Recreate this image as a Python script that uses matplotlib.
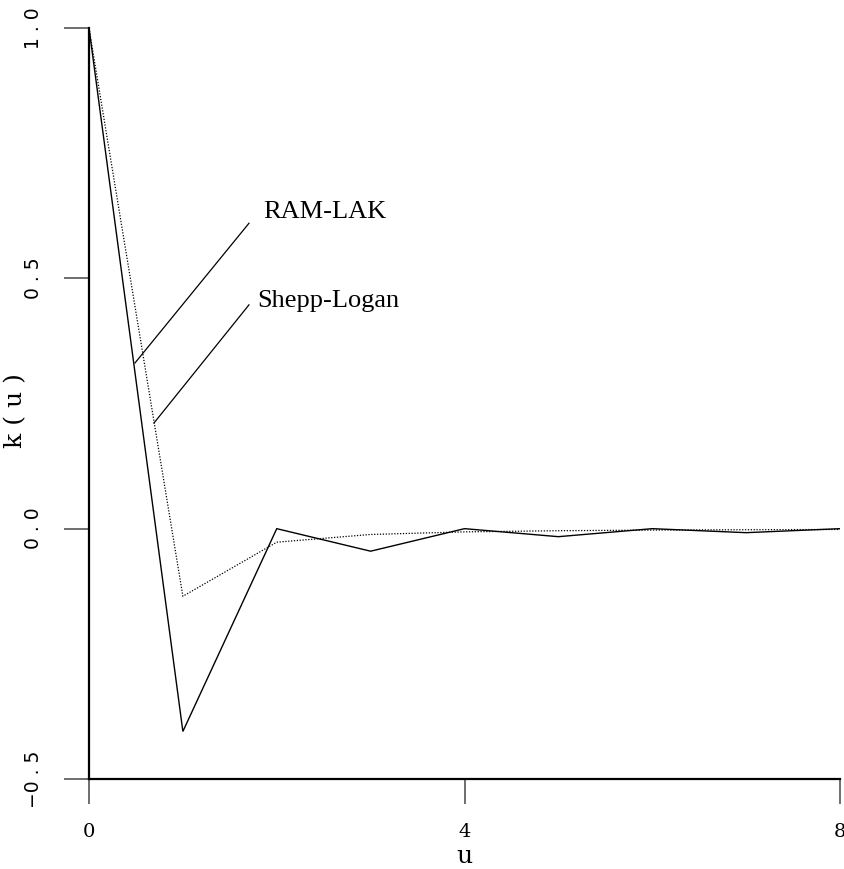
import matplotlib
matplotlib.use("Agg")
import matplotlib.pyplot as plt

u = [0, 1, 2, 3, 4, 5, 6, 7, 8]
ram_lak = [1.0, -0.405, 0.0, -0.045, 0.0, -0.016, 0.0, -0.008, 0.0]
shepp_logan = [1.0, -0.135, -0.027, -0.0116, -0.0064, -0.0041, -0.0028, -0.0021, -0.0016]

xticks = [0, 4, 8]
yticks = [-0.5, 0.0, 0.5, 1.0]
ytick_labels = ["\u22120 . 5", "0 . 0", "0 . 5", "1 . 0"]

fig = plt.figure(figsize=(8.45, 8.69), dpi=100)
ax = fig.add_axes([89/845, 1 - 779/869, (840-89)/845, (779-28)/869])

ax.plot(u, ram_lak, color="black", lw=1.0, solid_joinstyle="miter")
ax.plot(u, shepp_logan, color="black", lw=0.9, linestyle=(0, (1, 1.3)))

ax.set_xlim(0, 8)
ax.set_ylim(-0.5, 1.0)
for s in ["top", "right"]:
    ax.spines[s].set_visible(False)
for s in ["left", "bottom"]:
    ax.spines[s].set_linewidth(1.6)

ax.set_xticks(xticks)
ax.set_xticklabels([str(t) for t in xticks], family="DejaVu Serif", fontsize=14)
ax.set_yticks(yticks)
ax.set_yticklabels(ytick_labels, rotation=90, va="center", family="DejaVu Sans", fontsize=13.5)
ax.tick_params(axis="both", direction="out", length=18, width=1.2, pad=14, color="#555555")
ax.tick_params(axis="y", pad=15)

ax.set_xlabel("u", family="DejaVu Serif", fontsize=18, va="center")
ax.xaxis.set_label_coords(0.5, -0.103)
ax.set_ylabel("k ( u )", family="DejaVu Serif", fontsize=18, va="center")
ax.yaxis.set_label_coords(-0.098, 0.49)

# annotations
ax.plot([0.49, 1.704], [0.331, 0.610], color="black", lw=0.9)
ax.plot([0.692, 1.704], [0.211, 0.447], color="black", lw=0.9)
ax.text(1.853, 0.632, "RAM-LAK", family="Liberation Serif", fontsize=19, va="center", ha="left")
ax.text(1.79, 0.455, "Shepp-Logan", family="Liberation Serif", fontsize=19, va="center", ha="left")

fig.savefig("out.png", dpi=100)
